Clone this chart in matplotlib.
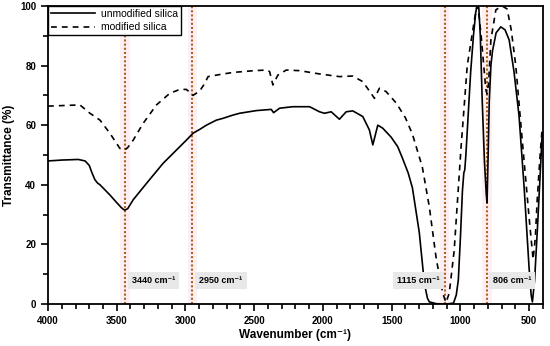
import matplotlib
matplotlib.use('Agg')
import matplotlib.pyplot as plt
from matplotlib.ticker import MultipleLocator

plt.rcParams['font.family'] = ['Liberation Sans', 'DejaVu Sans']

# unmodified silica (solid)
wn_unmod = [4000, 3900, 3780, 3730, 3700, 3680, 3660, 3640, 3622, 3590, 3550, 3500,
            3470, 3453, 3440, 3420, 3380, 3283, 3163, 3041, 2993, 2945, 2896, 2848,
            2775, 2727, 2654, 2606, 2484, 2376, 2359, 2315, 2219, 2097, 2025, 1989,
            1940, 1880, 1831, 1783, 1710, 1662, 1637, 1601, 1565, 1504, 1456, 1422,
            1380, 1349, 1299, 1262, 1240, 1226, 1175, 1100, 1050, 1030, 1015, 1000,
            985, 975, 968, 960, 945, 925, 905, 888, 878, 866, 855, 841, 825, 812,
            806, 798, 790, 778, 766, 740, 706, 675, 645, 610, 573, 536, 500, 485,
            476, 460, 441, 420, 405]
t_unmod = [48, 48.3, 48.5, 48, 46.5, 44, 41.8, 40.6, 40, 38.5, 36.6, 34,
           32.5, 31.8, 31.5, 32, 35, 40.5, 47.2, 52.8, 55, 57.3, 58.6, 60,
           61.7, 62.3, 63.4, 64, 64.9, 65.3, 64.2, 65.7, 66.2, 66.2, 64.5, 64,
           64.5, 62, 64.5, 64.8, 62.9, 58.4, 53.4, 60, 59, 56, 52.8, 49,
           44, 39, 24, 7, 2, 0.7, 0.1, 0, 0.3, 3, 8, 22,
           38, 44, 45, 50, 62, 78, 90, 98, 100, 99.5, 90, 68, 48, 37,
           34, 50, 68, 80, 85, 91, 93, 92, 88.6, 78, 63, 39, 12, 3,
           0.7, 8, 24, 43, 57]

# modified silica (dashed)
wn_mod = [4000, 3768, 3695, 3622, 3550, 3477, 3441, 3420, 3380, 3308, 3211, 3114,
          3041, 2993, 2945, 2896, 2860, 2836, 2750, 2654, 2500, 2412, 2388, 2364,
          2328, 2267, 2170, 2025, 1880, 1783, 1710, 1650, 1625, 1589, 1541, 1466,
          1400, 1349, 1277, 1226, 1175, 1128, 1105, 1081, 1045, 996, 950, 899, 880,
          865, 851, 830, 815, 806, 795, 778, 742, 696, 660, 630, 597, 550, 500,
          471, 455, 441, 420, 405]
t_mod = [66.4, 66.8, 64, 61.7, 57.3, 52.2, 51.7, 52.5, 55, 60.6, 66.8, 70.7,
         72, 72, 70, 71.5, 74, 76.3, 77, 77.7, 78.3, 78.5, 78, 73.5,
         76.8, 78.5, 78.3, 77.2, 76.3, 76.5, 74.6, 70.7, 69, 72.4, 71.3, 67.4,
         62.5, 57, 46, 32.6, 15, 3.6, 0.5, 3.6, 18, 52, 80, 95, 100,
         97, 91, 80, 72, 70.5, 74, 88.6, 98.7, 100, 99, 92, 80, 55, 29,
         15, 22, 35, 50, 59]

peaks = [3440, 2950, 1115, 806]
peak_labels = ['3440 cm⁻¹', '2950 cm⁻¹', '1115 cm⁻¹', '806 cm⁻¹']
label_x = [3392, 2898, 1460, 763]

fig = plt.figure(figsize=(5.5, 3.46), dpi=100)
ax = fig.add_axes([0.0873, 0.1214, 0.8997, 0.8613])

for p in peaks:
    ax.axvspan(p - 35, p + 35, color='#fdf0f4', zorder=0, lw=0)
    ax.axvline(p, color='#b0601e', ls=(0, (1, 1)), lw=1.5, zorder=1)

ax.plot(wn_unmod, t_unmod, color='black', lw=1.2, label='unmodified silica', zorder=3)
ax.plot(wn_mod, t_mod, color='black', lw=1.2, ls=(0, (3.5, 3)), label='modified silica', zorder=3)

for x, txt in zip(label_x, peak_labels):
    ax.text(x, 8, txt, fontsize=6.5, fontweight='bold', ha='left', va='center', zorder=4,
            bbox=dict(boxstyle='square,pad=0.45', fc='#e8e8e8', ec='none'))

ax.set_xlim(4000, 400)
ax.set_ylim(0, 100)
ax.xaxis.set_major_locator(MultipleLocator(500))
ax.xaxis.set_minor_locator(MultipleLocator(100))
ax.yaxis.set_major_locator(MultipleLocator(20))
ax.yaxis.set_minor_locator(MultipleLocator(10))
ax.tick_params(which='both', direction='out', width=1.2, labelsize=7)
ax.tick_params(which='major', length=5)
ax.tick_params(which='minor', length=3.5)
for lab in ax.get_xticklabels() + ax.get_yticklabels():
    lab.set_fontweight('bold')
for s in ax.spines.values():
    s.set_linewidth(1.3)

ax.set_xlabel('Wavenumber (cm⁻¹)', fontsize=8.5, fontweight='bold', labelpad=2)
ax.set_ylabel('Transmittance (%)', fontsize=8.5, fontweight='bold', labelpad=4)

leg = ax.legend(loc='upper left', fontsize=7.5, frameon=True, fancybox=False,
                borderaxespad=0, handlelength=4.2, handletextpad=0.6,
                borderpad=0.3, labelspacing=0.3, framealpha=1)
leg.get_frame().set_edgecolor('black')
leg.get_frame().set_linewidth(1.0)

fig.savefig('out.png', dpi=100)
